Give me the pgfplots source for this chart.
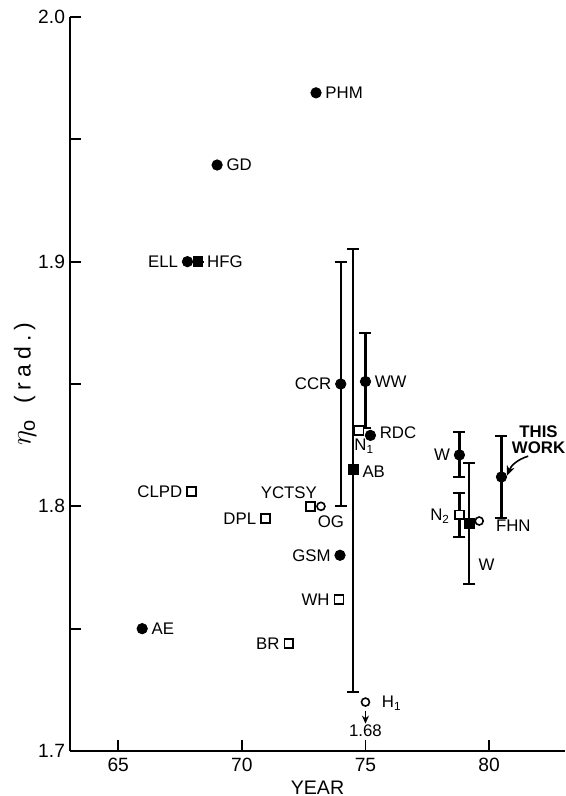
\documentclass[border=0pt]{standalone}
\usepackage{fontspec}
\setmainfont{Liberation Sans}
\usepackage{pgfplots}
\pgfplotsset{compat=1.18}
\usetikzlibrary{arrows.meta}

\newcommand{\lbl}{\fontsize{8.4}{9.5}\selectfont}

\begin{document}
\begin{tikzpicture}[
  lr/.style={anchor=west, inner sep=0pt, xshift=4.5pt, font=\lbl},
  ll/.style={anchor=east, inner sep=0pt, xshift=-4.5pt, font=\lbl},
  lc/.style={anchor=center, inner sep=0pt, font=\lbl},
]
\begin{axis}[
  scale only axis,
  width=247.5pt, height=367pt,
  xmin=63.05, xmax=83.07, ymin=1.7, ymax=2.0,
  axis x line=bottom, axis y line=left,
  axis line style={-, line width=1pt},
  tick align=inside,
  xtick={65,70,75,80},
  ytick={1.7,1.8,1.9,2.0},
  minor ytick={1.75,1.85,1.95},
  major tick length=5.5pt, minor tick length=5.5pt,
  tick style={line width=0.9pt, black},
  /pgf/number format/assume math mode=true,
  yticklabel style={/pgf/number format/fixed, /pgf/number format/fixed zerofill, /pgf/number format/precision=1, xshift=1pt},
  ticklabel style={font=\fontsize{9.6}{11}\selectfont},
  xlabel={YEAR},
  ylabel={{\Large$\eta_{\mathrm{o}}$}\hspace{0.7em}{\addfontfeatures{LetterSpace=22}(rad.)}},
  xlabel style={at={(axis description cs:0.5,-0.0504)}, anchor=center, font=\fontsize{9.8}{11}\selectfont},
  ylabel style={at={(axis description cs:-0.0909,0.5)}, anchor=center, font=\fontsize{11.5}{13}\selectfont},
  clip=false,
]
% filled circles with errors
\addplot[only marks, mark=*, mark size=2.6pt, black,
  error bars/.cd, y dir=both, y explicit,
  error bar style={line width=1.1pt},
  error mark options={rotate=90, mark size=3pt, line width=1pt}]
  coordinates {
  (74.0,1.850) +- (0,0.050)
  (75.0,1.851) += (0,0.020) -= (0,0.019)
  (78.8,1.821) +- (0,0.0092)
  (80.5,1.812) +- (0,0.0168)
  };
% filled squares with errors
\addplot[only marks, mark=square*, mark size=2.4pt, black,
  error bars/.cd, y dir=both, y explicit,
  error bar style={line width=1.1pt},
  error mark options={rotate=90, mark size=3pt, line width=1pt}]
  coordinates {
  (74.5,1.815) += (0,0.090) -= (0,0.091)
  (79.2,1.793) +- (0,0.0247)
  (68.22,1.900) +- (0,0)
  };
% filled circles
\addplot[only marks, mark=*, mark size=2.6pt, black]
  coordinates {
  (73.0,1.969) (69.0,1.9395) (67.8,1.900) (65.97,1.750)
  (73.97,1.780) (75.2,1.829)
  };
% open square N2 with error
\addplot[only marks, mark=square*, mark size=2.2pt, black,
  mark options={fill=white, draw=black, line width=0.8pt},
  error bars/.cd, y dir=both, y explicit,
  error bar style={line width=1.1pt},
  error mark options={rotate=90, mark size=3pt, line width=1pt}]
  coordinates {
  (78.8,1.7965) +- (0,0.009)
  };
% open squares
\addplot[only marks, mark=square*, mark size=2.2pt,
  mark options={fill=white, draw=black, line width=0.8pt}]
  coordinates {
  (67.97,1.806) (70.96,1.795) (72.78,1.800) (73.93,1.762)
  (71.9,1.744) (74.74,1.831)
  };
% open circles
\addplot[only marks, mark=*, mark size=2.0pt,
  mark options={fill=white, draw=black, line width=0.8pt}]
  coordinates {
  (73.2,1.800) (79.6,1.794) (75.0,1.720)
  };

\node[lr] at (axis cs:73.0,1.969) {PHM};
\node[lr] at (axis cs:69.0,1.9395) {GD};
\node[ll] at (axis cs:67.8,1.900) {ELL};
\node[lr] at (axis cs:68.22,1.900) {HFG};
\node[ll] at (axis cs:74.0,1.850) {CCR};
\node[lr] at (axis cs:75.0,1.851) {WW};
\node[lr] at (axis cs:75.2,1.830) {RDC};
\node[lc] at (axis cs:74.95,1.8245) {N\textsubscript{1}};
\node[lr] at (axis cs:74.5,1.814) {AB};
\node[lc, anchor=east] at (axis cs:73.05,1.8054) {YCTSY};
\node[lc] at (axis cs:73.6,1.7936) {OG};
\node[ll] at (axis cs:67.97,1.806) {CLPD};
\node[ll] at (axis cs:70.96,1.795) {DPL};
\node[ll] at (axis cs:73.97,1.780) {GSM};
\node[ll] at (axis cs:73.93,1.762) {WH};
\node[ll] at (axis cs:71.9,1.744) {BR};
\node[lr] at (axis cs:65.97,1.750) {AE};
\node[ll] at (axis cs:78.8,1.821) {W};
\node[ll] at (axis cs:78.8,1.796) {N\textsubscript{2}};
\node[lc] at (axis cs:79.9,1.776) {W};
\node[lr, xshift=0pt] at (axis cs:79.9,1.792) {FHN};
\node[lc, align=center, font=\lbl\bfseries] at (axis cs:82.0,1.8272) {THIS\\[-1.5pt]WORK};
\draw[line width=0.8pt, -{Stealth[length=5pt, width=4pt]}] (axis cs:81.58,1.8205) to[bend right=25] (axis cs:80.72,1.8125);
\node[lr, xshift=3.5pt] at (axis cs:75.0,1.7196) {H\textsubscript{1}};
\draw[line width=0.8pt, -{Stealth[length=4pt, width=3.5pt]}] (axis cs:75.0,1.7163) -- (axis cs:75.0,1.7112);
\node[lc] at (axis cs:75.0,1.7081) {1.68};

\coordinate (sw) at (rel axis cs:0,0);
\coordinate (ne) at (rel axis cs:1,1);
\end{axis}
\pgfresetboundingbox
\path[use as bounding box] ([xshift=-35pt, yshift=-22.5pt] sw) rectangle ([xshift=0.5pt, yshift=8.5pt] ne);
\end{tikzpicture}
\end{document}
